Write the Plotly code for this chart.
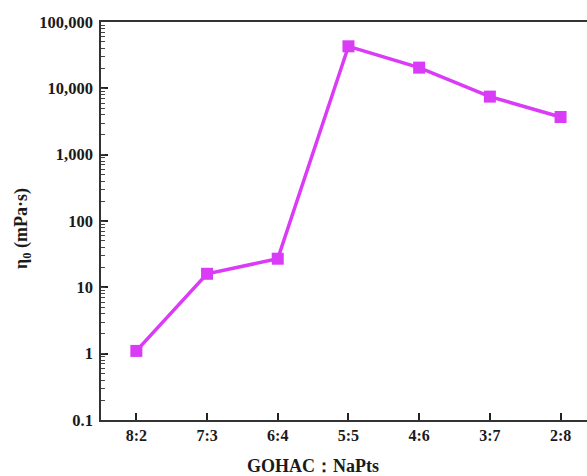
import plotly.graph_objects as go

categories = ["8:2", "7:3", "6:4", "5:5", "4:6", "3:7", "2:8"]
viscosity = [1.1, 16, 27, 43000, 20500, 7500, 3700]
x_title = "GOHAC：NaPts"
y_title = "η<sub>0</sub> (mPa·s)"

color = "#DA3BF6"
font = "Liberation Serif, Times New Roman, serif"
ink = "#1a1a1a"

fig = go.Figure()
fig.add_trace(go.Scatter(
    x=list(range(len(categories))), y=viscosity, mode="lines+markers",
    line=dict(color=color, width=3.5),
    marker=dict(symbol="square", size=12, color=color),
    showlegend=False,
))
# invisible helper trace for the minor-tick axis
fig.add_trace(go.Scatter(x=[0], y=[1], yaxis="y2", mode="markers",
                         marker=dict(opacity=0), showlegend=False, hoverinfo="skip"))

fig.update_layout(
    width=587, height=476,
    margin=dict(l=101, r=0, t=22, b=56),
    paper_bgcolor="white", plot_bgcolor="white",
    font=dict(family=font, color=ink, size=15),
    xaxis=dict(
        range=[-0.5, 6.374], tickvals=list(range(len(categories))), ticktext=categories,
        showgrid=False, zeroline=False, showline=True, linecolor="#333", linewidth=1.5,
        mirror=True, ticks="inside", ticklen=7, tickwidth=1.5, tickcolor="#222",
        tickfont=dict(family=font, size=16, color=ink, weight="bold"),
    ),
    yaxis=dict(
        type="log", range=[-1, 5], tickmode="linear", tick0=0, dtick=1, tickformat=",~g",
        showgrid=False, zeroline=False, showline=True, linecolor="#333", linewidth=1.5,
        ticks="inside", ticklen=7, tickwidth=1.5, tickcolor="#222", ticklabelstandoff=3,
        tickfont=dict(family=font, size=16.5, color=ink, weight="bold"),
    ),
    yaxis2=dict(
        type="log", range=[-1, 5], overlaying="y", side="left", anchor="x", dtick="D1",
        showgrid=False, zeroline=False, showline=False, showticklabels=False,
        ticks="inside", ticklen=4, tickwidth=1, tickcolor="#444",
    ),
    annotations=[
        dict(text=x_title, xref="paper", yref="paper", x=0.436, y=0, yshift=-46,
             xanchor="center", yanchor="middle", showarrow=False,
             font=dict(family=font, size=18, color=ink, weight="bold")),
        dict(text=y_title, xref="paper", yref="paper", x=0, y=0.48, xshift=-78,
             xanchor="center", yanchor="middle", textangle=-90, showarrow=False,
             font=dict(family=font, size=18, color=ink, weight="bold")),
    ],
)

fig.write_html("out.html")
